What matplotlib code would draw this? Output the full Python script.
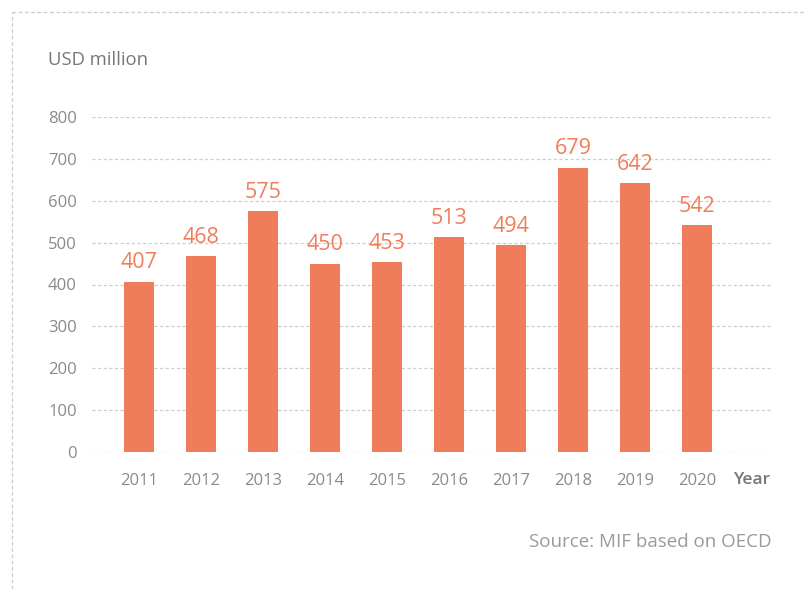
import numpy as np
import matplotlib
matplotlib.use("Agg")
import matplotlib.pyplot as plt
from matplotlib.lines import Line2D

plt.rcParams['font.family'] = ['Open Sans', 'DejaVu Sans']

years = ['2011', '2012', '2013', '2014', '2015', '2016', '2017', '2018', '2019', '2020']
values = [407, 468, 575, 450, 453, 513, 494, 679, 642, 542]
yticks = [0, 100, 200, 300, 400, 500, 600, 700, 800]

bar_color = '#F07D5A'
grid_color = '#CCCCCC'
text_gray = '#8A8A8A'

fig = plt.figure(figsize=(8.06, 5.89), dpi=100)
ax = fig.add_axes([92 / 806, 1 - 452 / 589, 680 / 806, 335 / 589])

x = np.arange(len(years))
ax.bar(x, values, width=0.49, color=bar_color, zorder=3)

for xi, v in zip(x, values):
    ax.annotate(str(v), (xi, v), xytext=(0, 6), textcoords='offset points',
                ha='center', va='bottom', fontsize=15.5, color=bar_color)

ax.set_xlim(-0.76, 10.21)
ax.set_ylim(0, 800)
ax.set_yticks(yticks)
ax.set_xticks(x)
ax.set_xticklabels(years)
ax.tick_params(length=0, labelsize=12, colors=text_gray)
ax.tick_params(axis='y', pad=11)
ax.tick_params(axis='x', pad=15)
for s in ax.spines.values():
    s.set_visible(False)
ax.yaxis.grid(True, color=grid_color, linestyle=(0, (2.5, 2)), linewidth=0.9, zorder=0)

ax.text(9.9, -67, 'Year', ha='center', va='center', fontsize=12.5, color='#777777',
        fontweight='semibold', transform=ax.transData)

fig.text(48 / 806, 1 - 60 / 589, 'USD million', ha='left', va='center',
         fontsize=13.3, color='#777777')
fig.text(772 / 806, 1 - 542 / 589, 'Source: MIF based on OECD', ha='right',
         va='center', fontsize=13.5, color='#9A9A9A')

# dashed frame at top and left
fig.add_artist(Line2D([12 / 806, 1], [1 - 12 / 589, 1 - 12 / 589],
                      color=grid_color, linestyle=(0, (3, 2)), linewidth=0.9))
fig.add_artist(Line2D([12 / 806, 12 / 806], [0, 1 - 12 / 589],
                      color=grid_color, linestyle=(0, (3, 2)), linewidth=0.9))

fig.savefig('out.png', dpi=100)
